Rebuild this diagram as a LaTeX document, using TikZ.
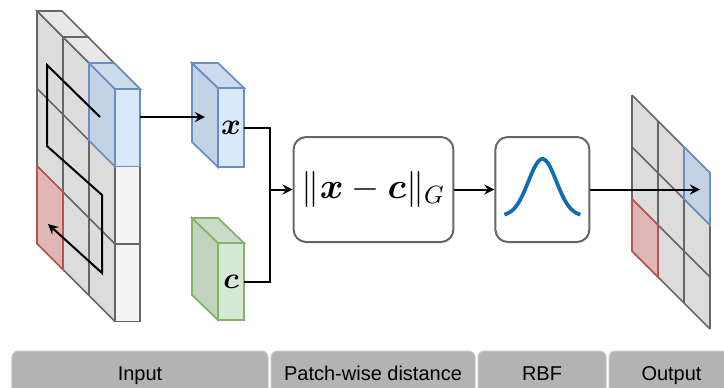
\documentclass[tikz,border=0pt]{standalone}
\usepackage{amsmath}
\usepackage{fontspec}
\newfontfamily\tabfont{Liberation Sans}
\usepackage{tikz}
\usetikzlibrary{positioning,arrows}

\definecolor{cellline}{HTML}{666666}
\definecolor{cellside}{HTML}{DCDCDC}
\definecolor{celltop}{HTML}{E8E8E8}
\definecolor{cellfront}{HTML}{F4F4F4}
\definecolor{bluedraw}{HTML}{6C8EBF}
\definecolor{bluefront}{HTML}{DAE8FC}
\definecolor{blueside}{HTML}{C4D2E6}
\definecolor{bluetop}{HTML}{CDDBEF}
\definecolor{greendraw}{HTML}{82B366}
\definecolor{greenfront}{HTML}{D5E8D4}
\definecolor{greenside}{HTML}{C1D4BF}
\definecolor{greentop}{HTML}{CADCC8}
\definecolor{reddraw}{HTML}{B85450}
\definecolor{redfill}{HTML}{DFB6B5}
\definecolor{curve}{RGB}{16,110,176}
\definecolor{tabfill}{HTML}{B3B3B3}
\definecolor{tabline}{HTML}{C8C8C8}

\begin{document}
\begin{tikzpicture}[x=0.4pt,y=-0.4pt,
	grid/.style={draw=cellline, line width=0.7pt},
	bluecell/.style={draw=bluedraw, line width=0.7pt},
	greencell/.style={draw=greendraw, line width=0.7pt},
	redcell/.style={draw=reddraw, fill=redfill, line width=0.7pt},
	vec/.style={
		line width=0.7pt,
		inner sep=0pt,
		outer sep=0pt,
		minimum width=10.4pt,
		font=\large
	},
	box/.style={
		draw=cellline,
		line width=0.8pt,
		rounded corners=5pt,
		minimum height=42pt
	},
	tab/.style={
		draw=tabline,
		fill=tabfill,
		rounded corners=2.5pt,
		minimum height=18.4pt,
		inner sep=0pt,
		text height=0.72em,
		text depth=0.21em,
		font=\tabfont\fontsize{8pt}{9.6pt}\selectfont
	},
	line/.style={draw, line width=0.8pt},
	arr/.style={draw, line width=0.8pt, -stealth},
	node distance=0.8pt
	]
	\useasboundingbox (0,0) rectangle (724,387);
	\clip (0,0) rectangle (724,387);

	% input
	\fill[cellside] (37,11) -- (115,89) -- (115,321.5) -- (37,243.5) -- cycle;
	\foreach \i in {0,...,3}
		\draw[grid] (37+26*\i,11+26*\i) -- ++(0,232.5);
	\foreach \j in {0,...,3}
		\draw[grid] (37,11+77.5*\j) -- ++(78,78);
	\foreach \i in {0,1,2}
		\draw[grid, fill=celltop] (37+26*\i,11+26*\i) -- ++(25,0) -- ++(26,26) -- ++(-25,0) -- cycle;
	\foreach \j in {1,2}
		\draw[grid, fill=cellfront] (115,89+77.5*\j) rectangle ++(25,77.5);

	\draw[bluecell, fill=blueside] (89,63) -- (115,89) -- (115,166.5) -- (89,140.5) -- cycle;
	\draw[bluecell, fill=bluetop] (89,63) -- (114,63) -- (140,89) -- (115,89) -- cycle;
	\draw[bluecell, fill=bluefront] (115,89) rectangle (140,166.5);
	\draw[redcell] (37,166) -- (63,192) -- (63,269.5) -- (37,243.5) -- cycle;

	\draw[arr] (100,117) -- (47,65) -- (47,146) -- (102,195) -- (102,273) -- (48,224);
	\coordinate (patch) at (140,117);

	% x and c
	\node[vec, draw=bluedraw, fill=bluefront, minimum height=31.6pt] at (231,127.5)
	(xf) {$\boldsymbol{x}$};
	\draw[bluecell, fill=blueside] (xf.north west) -- ++(-26,-25) -- ++(0,79) -- (xf.south west) -- cycle;
	\draw[bluecell, fill=bluetop] (xf.north west) -- ++(-26,-25) -- ++(26,0) -- (xf.north east) -- cycle;

	\node[vec, draw=greendraw, fill=greenfront, minimum height=30.8pt] at (231,281.5)
	(cf) {$\boldsymbol{c}$};
	\draw[greencell, fill=greenside] (cf.north west) -- ++(-26,-25) -- ++(0,77) -- (cf.south west) -- cycle;
	\draw[greencell, fill=greentop] (cf.north west) -- ++(-26,-25) -- ++(26,0) -- (cf.north east) -- cycle;
	\coordinate (xin) at (205,117);

	% distance and rbf
	\node[box, minimum width=62.8pt, font=\Large] at (373.5,189.5)
	(dist) {$\|\boldsymbol{x}-\boldsymbol{c}\|_G$};
	\node[box, minimum width=37.6pt, right=16pt of dist]
	(rbf) {};
	\begin{scope}[shift={(rbf.center)}]
		\draw[curve, line width=1.5pt] plot[domain=-38:38, samples=60]
		(\x, {26.5-57*exp(-(\x/14)*(\x/14)/2)});
	\end{scope}

	% output
	\fill[cellside] (632,95) -- (710,173) -- (710,329) -- (632,251) -- cycle;
	\foreach \i in {0,...,3}
		\draw[grid] (632+26*\i,95+26*\i) -- ++(0,156);
	\foreach \j in {0,...,3}
		\draw[grid] (632,95+52*\j) -- ++(78,78);
	\draw[bluecell, fill=blueside] (684,147) -- (710,173) -- (710,225) -- (684,199) -- cycle;
	\draw[redcell] (632,199) -- (658,225) -- (658,277) -- (632,251) -- cycle;
	\coordinate (oin) at (700,189.5);

	\coordinate (join) at (270,189.5);

	\draw[arr] (patch) -- (xin);
	\draw[line] (xf.east) -| (join);
	\draw[line] (cf.east) -| (join);
	\draw[arr] (join) -- (dist);
	\draw[arr] (dist) -- (rbf);
	\draw[arr] (rbf) -- (oin);

	% captions
	\node[tab, minimum width=102.4pt] at (140,374) (tin) {Input};
	\node[tab, minimum width=81.6pt, right=of tin] (tdist) {Patch-wise distance};
	\node[tab, minimum width=51.2pt, right=of tdist] (trbf) {RBF};
	\node[tab, minimum width=50pt, right=of trbf] (tout) {Output};

\end{tikzpicture}
\end{document}
